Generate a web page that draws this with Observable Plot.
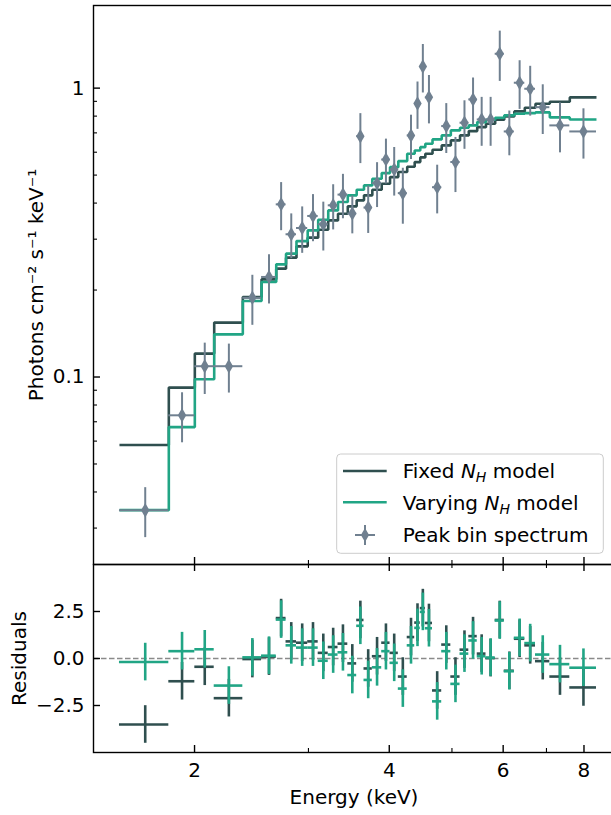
<!DOCTYPE html>
<html>
<head>
<meta charset="utf-8">
<script src="https://cdn.jsdelivr.net/npm/d3@7"></script>
<script src="https://cdn.jsdelivr.net/npm/@observablehq/plot@0.6"></script>
<style>
html, body { margin:0; padding:0; background:#fff; overflow:hidden; }
#chart { position:relative; width:611px; height:815px; overflow:hidden; background:#fff; font-family:"DejaVu Sans", sans-serif; }
</style>
</head>
<body>
<div id="chart"></div>
<script>
// ---------- data ----------
const binEdges = [1.531, 1.825, 2.002, 2.145, 2.375, 2.539, 2.675, 2.770, 2.875, 2.992, 3.106, 3.219, 3.333, 3.451, 3.562, 3.656, 3.766, 3.894, 4.011, 4.131, 4.264, 4.379, 4.467, 4.548, 4.666, 4.821, 4.980, 5.146, 5.309, 5.471, 5.644, 5.832, 6.023, 6.243, 6.480, 6.732, 7.084, 7.606, 8.364];
const binCenters = [1.678, 1.913, 2.074, 2.260, 2.457, 2.607, 2.722, 2.822, 2.934, 3.049, 3.163, 3.276, 3.392, 3.507, 3.609, 3.711, 3.830, 3.953, 4.071, 4.198, 4.322, 4.423, 4.508, 4.607, 4.744, 4.900, 5.063, 5.228, 5.390, 5.558, 5.738, 5.928, 6.133, 6.362, 6.606, 6.908, 7.345, 7.985];
const spectrumFlux = [0.0346, 0.0737, 0.109, 0.109, 0.188, 0.222, 0.396, 0.312, 0.328, 0.361, 0.338, 0.393, 0.428, 0.368, 0.682, 0.386, 0.469, 0.566, 0.523, 0.433, 0.686, 0.885, 1.189, 0.929, 0.454, 0.739, 0.555, 0.759, 0.914, 0.779, 0.779, 1.315, 0.708, 1.044, 0.995, 0.859, 0.743, 0.708];
const spectrumErr = [0.0068, 0.0145, 0.022, 0.021, 0.037, 0.043, 0.075, 0.055, 0.06, 0.067, 0.065, 0.07, 0.075, 0.055, 0.134, 0.072, 0.083, 0.1, 0.1, 0.095, 0.12, 0.165, 0.227, 0.177, 0.087, 0.145, 0.12, 0.145, 0.17, 0.15, 0.15, 0.26, 0.125, 0.2, 0.195, 0.168, 0.146, 0.14];
const fixedModel = [0.0582, 0.0919, 0.1205, 0.1543, 0.1891, 0.2178, 0.2372, 0.2589, 0.2833, 0.3037, 0.3236, 0.3484, 0.3675, 0.3897, 0.4088, 0.4254, 0.4451, 0.4668, 0.4921, 0.5122, 0.5346, 0.5545, 0.5756, 0.5929, 0.6120, 0.6334, 0.6592, 0.6860, 0.7099, 0.7328, 0.7530, 0.7774, 0.7982, 0.8307, 0.8556, 0.8833, 0.8975, 0.9286];
const varyingModel = [0.0346, 0.0671, 0.0982, 0.1405, 0.1832, 0.2132, 0.2455, 0.2673, 0.2955, 0.3218, 0.3504, 0.3774, 0.4033, 0.4254, 0.4451, 0.4606, 0.4858, 0.5080, 0.5327, 0.5590, 0.5929, 0.6086, 0.6248, 0.6420, 0.6645, 0.6860, 0.7140, 0.7294, 0.7430, 0.7627, 0.7774, 0.7900, 0.8045, 0.8155, 0.8195, 0.8240, 0.7918, 0.7792];
const fixedResid = [-3.51, -1.21, -0.44, -2.11, -0.03, 0.10, 2.15, 0.91, 0.84, 0.91, 0.30, 0.61, 0.79, -0.26, 2.05, -0.53, 0.12, 0.84, 0.30, -0.96, 1.14, 1.91, 2.68, 1.89, -1.70, 0.74, -0.96, 0.47, 1.19, 0.26, 0.02, 2.05, -0.65, 1.05, 0.70, -0.14, -0.96, -1.54];
const varyingResid = [-0.19, 0.39, 0.49, -1.44, 0.06, 0.15, 2.07, 0.70, 0.58, 0.58, -0.12, 0.21, 0.33, -0.88, 1.74, -1.14, -0.47, 0.39, -0.23, -1.60, 0.70, 1.63, 2.48, 1.61, -2.28, 0.39, -1.35, 0.26, 0.96, 0.12, 0.05, 2.02, -0.68, 1.10, 0.82, 0.21, -0.30, -0.49];

const xMajorTicks = [2, 4, 6, 8];
const xTickLabels = ["2", "4", "6", "8"];
const xMinorTicks = [3, 5, 7];
const yTopMajorTicks = [0.1, 1];
const yTopTickLabels = ["0.1", "1"];
const yTopMinorTicks = [0.03, 0.04, 0.05, 0.06, 0.07, 0.08, 0.09, 0.2, 0.3, 0.4, 0.5, 0.6, 0.7, 0.8, 0.9];
const resMajorTicks = [-2.5, 0, 2.5];
const resTickLabels = ["\u22122.5", "0.0", "2.5"];

// ---------- styles ----------
const colFixed = "#2f4f4f";
const colVary = "#21a585";
const colData = "#708090";

const W = 615, ML = 93, MR = 1;
const frameW = W - ML - MR;
const xDomain = [1.3958, 8.918];
const svgStyle = "background:transparent;overflow:visible;max-width:none;font-family:'DejaVu Sans',sans-serif;font-size:20px;color:black;";

// ---------- derived tables ----------
const bins = binCenters.map((E, i) => ({
  E, lo: binEdges[i], hi: binEdges[i + 1],
  F: spectrumFlux[i], err: spectrumErr[i],
  rFixed: fixedResid[i], rVary: varyingResid[i]
}));
const stepOf = (model) => binEdges.map((e, i) => ({E: e, F: model[Math.min(i, model.length - 1)]}));
const fixedSteps = stepOf(fixedModel);
const varyingSteps = stepOf(varyingModel);

// ---------- top panel ----------
const topH = 570, topMT = 5, topMB = 6;
const topFrameH = topH - topMT - topMB;
const topPlot = Plot.plot({
  width: W, height: topH,
  marginLeft: ML, marginRight: MR, marginTop: topMT, marginBottom: topMB,
  style: svgStyle,
  x: {type: "log", domain: xDomain, axis: null},
  y: {type: "log", domain: [0.02244, 1.932], axis: null},
  marks: [
    Plot.line(fixedSteps, {x: "E", y: "F", curve: "step-after", stroke: colFixed, strokeWidth: 2.6, strokeLinejoin: "miter", strokeLinecap: "butt"}),
    Plot.line(varyingSteps, {x: "E", y: "F", curve: "step-after", stroke: colVary, strokeWidth: 2.6, strokeLinejoin: "miter", strokeLinecap: "butt"}),
    Plot.ruleX(bins, {x: "E", y1: d => d.F - d.err, y2: d => d.F + d.err, stroke: colData, strokeWidth: 2}),
    Plot.ruleY(bins, {y: "F", x1: "lo", x2: "hi", stroke: colData, strokeWidth: 2}),
    Plot.dot(bins, {x: "E", y: "F", symbol: "diamond", r: 4.4, fill: colData, stroke: "none"}),
    Plot.frame({stroke: "black", strokeWidth: 1.4}),
    Plot.tickY(yTopMajorTicks, {y: d => d, insetRight: frameW - 7, stroke: "black", strokeWidth: 1.4}),
    Plot.tickY(yTopMinorTicks, {y: d => d, insetRight: frameW - 4, stroke: "black", strokeWidth: 1.1}),
    Plot.tickX(xMajorTicks, {x: d => d, insetTop: topFrameH - 7, stroke: "black", strokeWidth: 1.4}),
    Plot.tickX(xMinorTicks, {x: d => d, insetTop: topFrameH - 4, stroke: "black", strokeWidth: 1.1}),
    Plot.text(yTopMajorTicks, {y: d => d, text: (d, i) => yTopTickLabels[i], frameAnchor: "left", textAnchor: "end", lineAnchor: "middle", dx: -9, fill: "black"}),
    Plot.text(["Photons cm\u207B\u00B2 s\u207B\u00B9 keV\u207B\u00B9"], {text: d => d, frameAnchor: "left", textAnchor: "middle", rotate: -90, lineAnchor: "bottom", dx: 42 - ML, fill: "black"})
  ]
});
topPlot.style.position = "absolute"; topPlot.style.left = "0px"; topPlot.style.top = "0px";

// ---------- residual panel ----------
const botTop = 560, botH = 255, botMT = 4, botMB = 63;
const botFrameH = botH - botMT - botMB;
const botPlot = Plot.plot({
  width: W, height: botH,
  marginLeft: ML, marginRight: MR, marginTop: botMT, marginBottom: botMB,
  style: svgStyle,
  x: {type: "log", domain: xDomain, axis: null},
  y: {domain: [-5, 5], axis: null},
  marks: [
    Plot.ruleY([0], {stroke: "#8a8a8a", strokeWidth: 1.5, strokeDasharray: "5.5,2.5"}),
    Plot.ruleX(bins, {x: "E", y1: d => d.rFixed - 1, y2: d => d.rFixed + 1, stroke: colFixed, strokeWidth: 2.6}),
    Plot.ruleY(bins, {y: "rFixed", x1: "lo", x2: "hi", stroke: colFixed, strokeWidth: 2.6}),
    Plot.ruleX(bins, {x: "E", y1: d => d.rVary - 1, y2: d => d.rVary + 1, stroke: colVary, strokeWidth: 2.6}),
    Plot.ruleY(bins, {y: "rVary", x1: "lo", x2: "hi", stroke: colVary, strokeWidth: 2.6}),
    Plot.frame({stroke: "black", strokeWidth: 1.4}),
    Plot.tickY(resMajorTicks, {y: d => d, insetRight: frameW - 7, stroke: "black", strokeWidth: 1.4}),
    Plot.tickX(xMajorTicks, {x: d => d, insetTop: botFrameH - 7, stroke: "black", strokeWidth: 1.4}),
    Plot.tickX(xMinorTicks, {x: d => d, insetTop: botFrameH - 4, stroke: "black", strokeWidth: 1.1}),
    Plot.tickX(xMajorTicks, {x: d => d, insetBottom: botFrameH - 7, stroke: "black", strokeWidth: 1.4}),
    Plot.tickX(xMinorTicks, {x: d => d, insetBottom: botFrameH - 4, stroke: "black", strokeWidth: 1.1}),
    Plot.text(resMajorTicks, {y: d => d, text: (d, i) => resTickLabels[i], frameAnchor: "left", textAnchor: "end", lineAnchor: "middle", dx: -9, fill: "black"}),
    Plot.text(xMajorTicks, {x: d => d, text: (d, i) => xTickLabels[i], frameAnchor: "bottom", textAnchor: "middle", lineAnchor: "top", dy: 10, fill: "black"}),
    Plot.text(["Energy (keV)"], {text: d => d, frameAnchor: "bottom", textAnchor: "middle", lineAnchor: "bottom", dy: 51.5, fill: "black"}),
    Plot.text(["Residuals"], {text: d => d, frameAnchor: "left", textAnchor: "middle", rotate: -90, lineAnchor: "bottom", dx: 25 - ML, fill: "black"})
  ]
});
botPlot.style.position = "absolute"; botPlot.style.left = "0px"; botPlot.style.top = botTop + "px";

const chart = document.getElementById("chart");
chart.appendChild(topPlot);
chart.appendChild(botPlot);

// ---------- legend ----------
const legend = document.createElement("div");
legend.style.cssText = "position:absolute;left:0;top:0;width:611px;height:815px;pointer-events:none;";
legend.innerHTML = `
<svg width="611" height="815" font-family="DejaVu Sans, sans-serif" font-size="20">
  <rect x="336.7" y="454" width="266.6" height="99.3" rx="4" fill="white" fill-opacity="0.8" stroke="#cccccc" stroke-width="1"/>
  <line x1="343" x2="386.7" y1="471" y2="471" stroke="${colFixed}" stroke-width="2.6"/>
  <line x1="343" x2="386.7" y1="502.3" y2="502.3" stroke="${colVary}" stroke-width="2.6"/>
  <line x1="365" x2="365" y1="525" y2="545" stroke="${colData}" stroke-width="2"/>
  <line x1="355" x2="375" y1="535" y2="535" stroke="${colData}" stroke-width="2"/>
  <path d="M365,527.9 L369.1,535 L365,542.1 L360.9,535 Z" fill="${colData}"/>
  <text x="402.7" y="478.3">Fixed <tspan font-style="italic">N</tspan><tspan font-style="italic" font-size="14" dy="4">H</tspan><tspan dy="-4"> model</tspan></text>
  <text x="402.7" y="509.6">Varying <tspan font-style="italic">N</tspan><tspan font-style="italic" font-size="14" dy="4">H</tspan><tspan dy="-4"> model</tspan></text>
  <text x="402.7" y="541.8">Peak bin spectrum</text>
</svg>`;
chart.appendChild(legend);
</script>
</body>
</html>
